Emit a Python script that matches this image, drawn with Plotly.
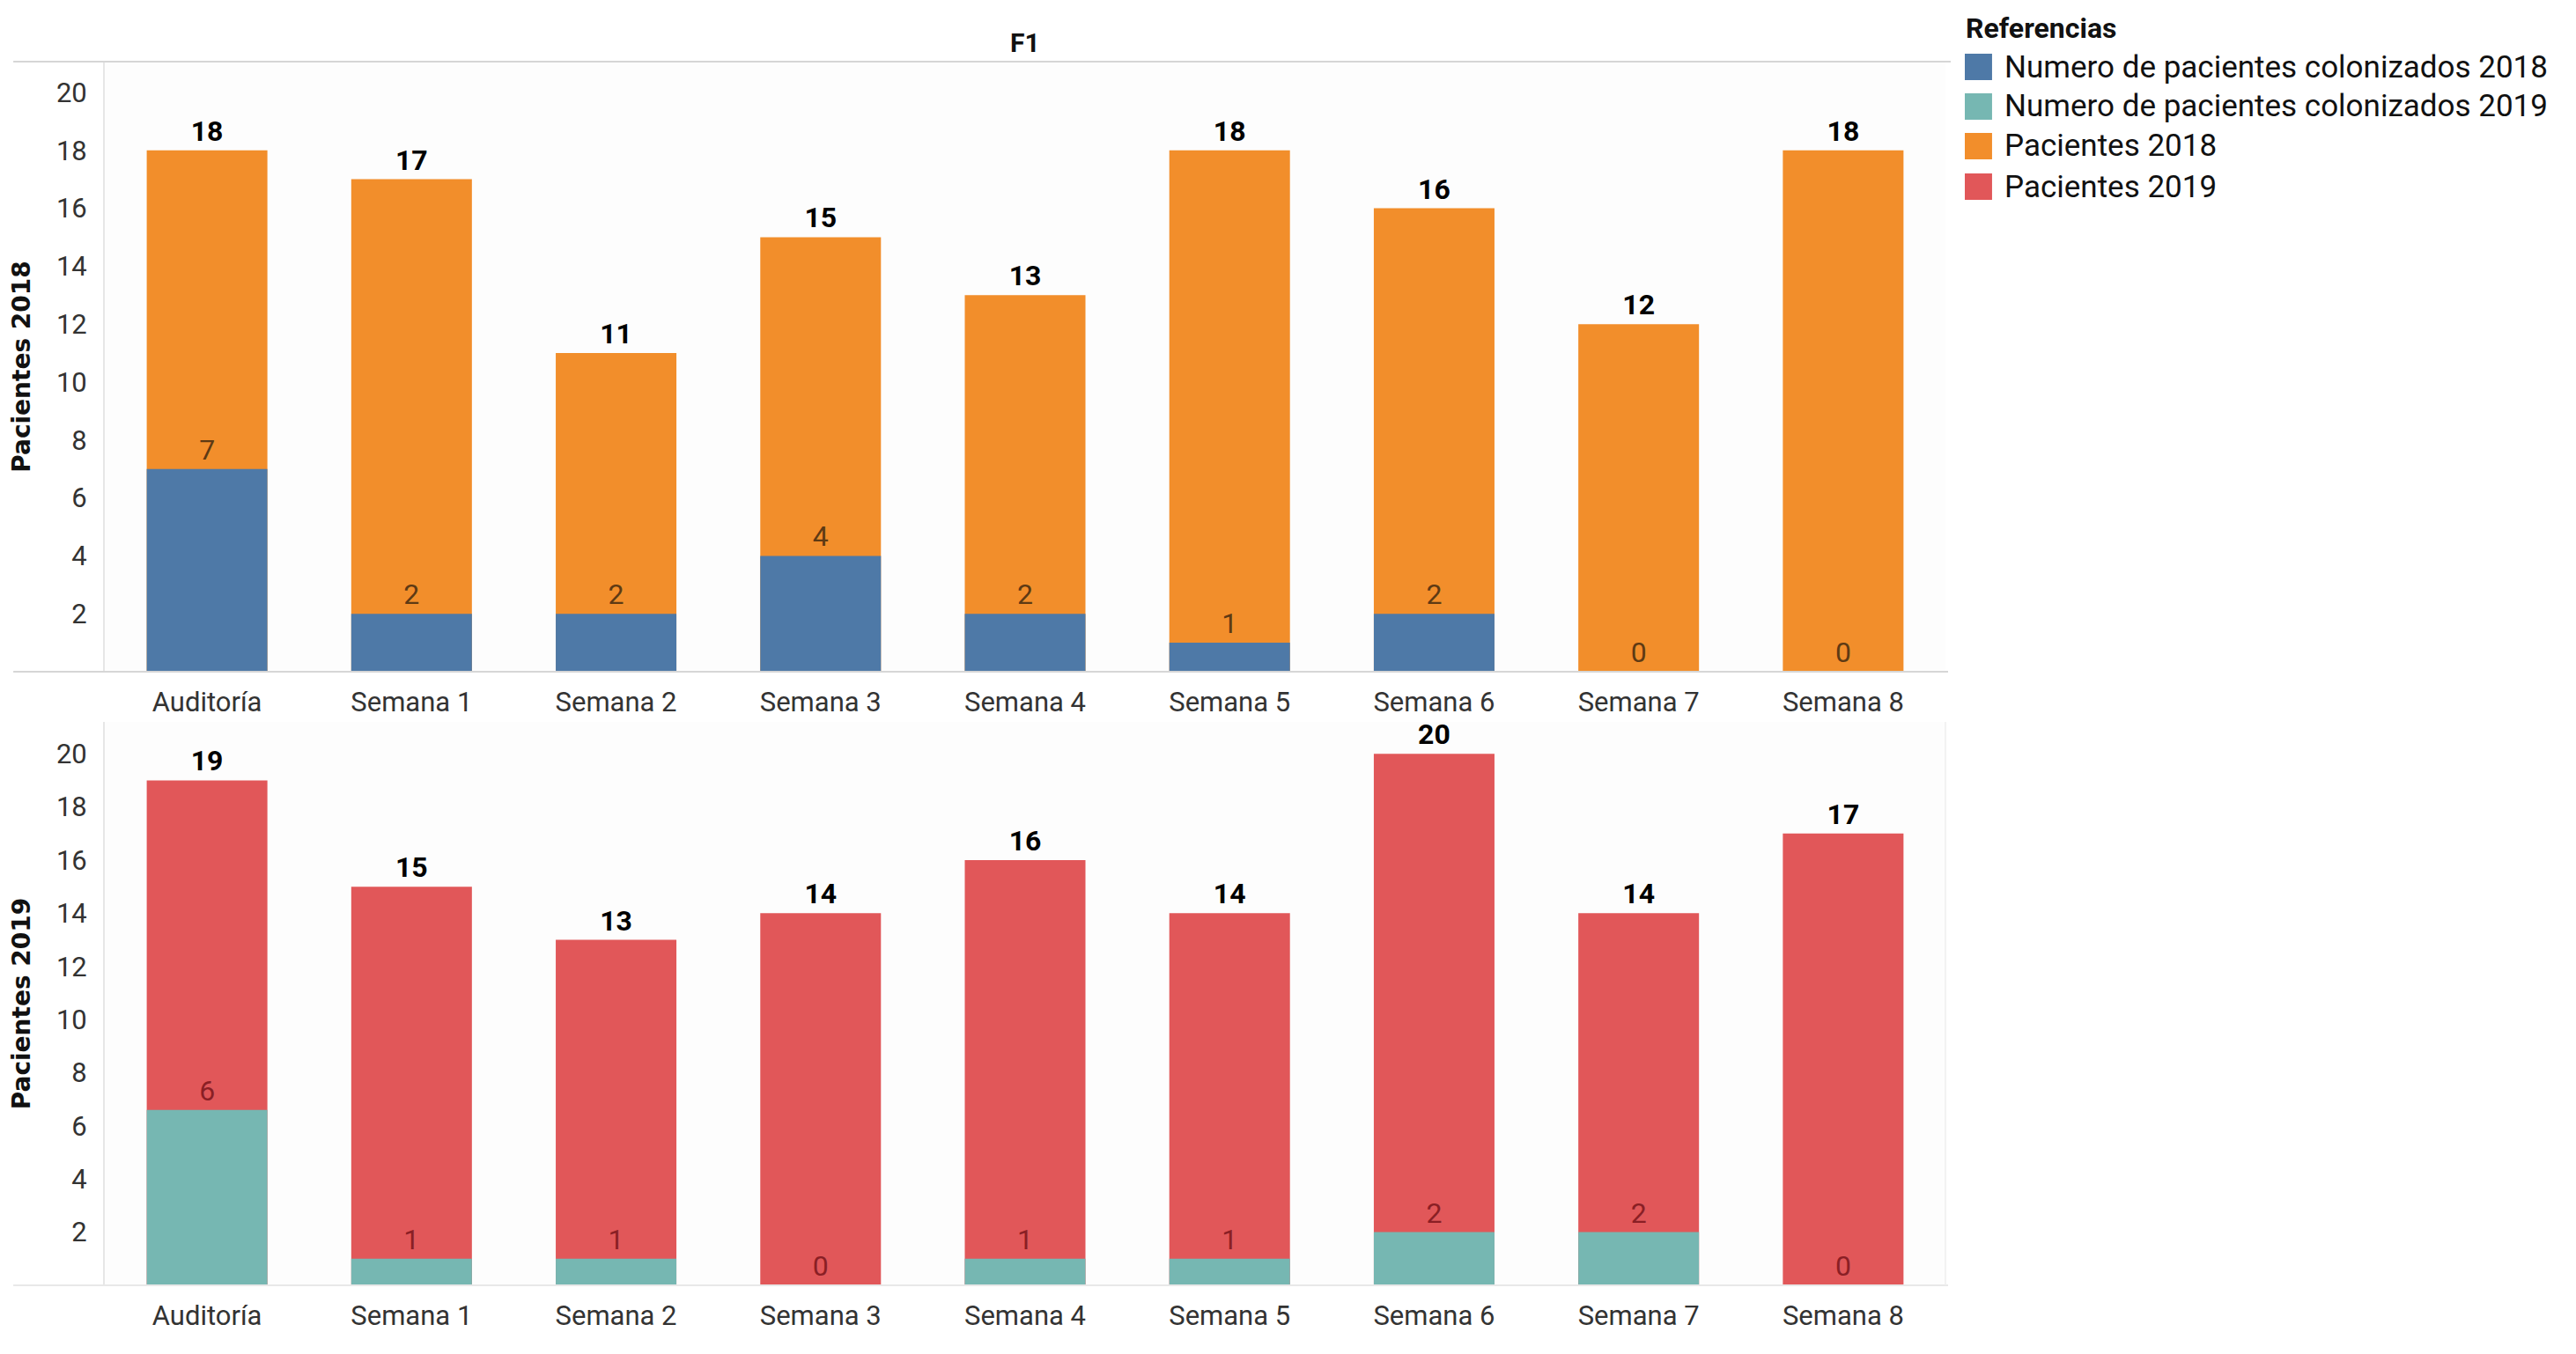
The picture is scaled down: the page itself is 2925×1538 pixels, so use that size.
import plotly.graph_objects as go

# ---------------- data ----------------
categorias = ["Auditoría", "Semana 1", "Semana 2", "Semana 3", "Semana 4",
              "Semana 5", "Semana 6", "Semana 7", "Semana 8"]
pacientes_2018 = [18, 17, 11, 15, 13, 18, 16, 12, 18]
colonizados_2018 = [7, 2, 2, 4, 2, 1, 2, 0, 0]
pacientes_2019 = [19, 15, 13, 14, 16, 14, 20, 14, 17]
colonizados_2019 = [6.6, 1, 1, 0, 1, 1, 2, 2, 0]
etiquetas_colonizados_2019 = ["6", "1", "1", "0", "1", "1", "2", "2", "0"]
ticks_y = [2, 4, 6, 8, 10, 12, 14, 16, 18, 20]

series_nombres = ["Numero de pacientes colonizados 2018",
                  "Numero de pacientes colonizados 2019",
                  "Pacientes 2018", "Pacientes 2019"]
series_colores = ["#4e79a7", "#76b7b2", "#f28e2b", "#e15759"]
C_COL18, C_COL19, C_P18, C_P19 = series_colores

# ---------------- geometry (pixels in the page) ----------------
OFF = 8                      # default page body margin
W, H = 2925 - 2 * OFF, 1538 - 2 * OFF
PL, PR = 117 - OFF, 2209 - OFF      # plot area left/right
PT, PB = 70 - OFF, 1460 - OFF       # plot area top/bottom


def px_x(x):
    return (x - OFF - PL) / (PR - PL)


def px_y(y):
    return (PB - (y - OFF)) / (PB - PT)


TICK_FONT = dict(family="Roboto", size=31, color="#333333")
TOTAL_FONT = dict(family="Roboto", size=32, color="#000000", weight="bold")
INNER_SIZE = 32

fig = go.Figure()

# upper panel
fig.add_trace(go.Bar(
    x=categorias, y=pacientes_2018, name="Pacientes 2018",
    marker=dict(color=C_P18, line=dict(width=0)), width=0.59,
    text=[str(v) for v in pacientes_2018], textposition="outside",
    textfont=TOTAL_FONT, cliponaxis=False, constraintext="none",
    xaxis="x", yaxis="y", showlegend=False))
fig.add_trace(go.Bar(
    x=categorias, y=colonizados_2018, name="Numero de pacientes colonizados 2018",
    marker=dict(color=C_COL18, line=dict(width=0)), width=0.59,
    text=[str(v) for v in colonizados_2018], textposition="outside",
    textfont=dict(family="Roboto", size=INNER_SIZE, color="#5e3a14"),
    cliponaxis=False, constraintext="none",
    xaxis="x", yaxis="y", showlegend=False))

# lower panel
fig.add_trace(go.Bar(
    x=categorias, y=pacientes_2019, name="Pacientes 2019",
    marker=dict(color=C_P19, line=dict(width=0)), width=0.59,
    text=[str(v) for v in pacientes_2019], textposition="outside",
    textfont=TOTAL_FONT, cliponaxis=False, constraintext="none",
    xaxis="x2", yaxis="y2", showlegend=False))
fig.add_trace(go.Bar(
    x=categorias, y=colonizados_2019, name="Numero de pacientes colonizados 2019",
    marker=dict(color=C_COL19, line=dict(width=0)), width=0.59,
    text=etiquetas_colonizados_2019, textposition="outside",
    textfont=dict(family="Roboto", size=INNER_SIZE, color="#8a1f25"),
    cliponaxis=False, constraintext="none",
    xaxis="x2", yaxis="y2", showlegend=False))

xaxis_common = dict(
    tickfont=TICK_FONT, showgrid=False, zeroline=False, showline=False,
    ticks="outside", ticklen=7, tickcolor="rgba(0,0,0,0)",
    categoryorder="array", categoryarray=categorias, fixedrange=True)
yaxis_common = dict(
    tickvals=ticks_y, tickfont=TICK_FONT, showgrid=False, zeroline=False,
    showline=True, linecolor="#e6e6e6", linewidth=2,
    ticks="outside", ticklen=12, tickcolor="rgba(0,0,0,0)",
    title_standoff=24, fixedrange=True)

top_domain = [px_y(763), 1.0]
bot_domain = [0.0, px_y(820)]

Y_TITLE_FONT = dict(family="DejaVu Sans", size=28, color="#111111", weight="bold")

fig.update_layout(
    width=W, height=H,
    margin=dict(l=PL, r=W - PR, t=PT, b=H - PB, pad=0),
    paper_bgcolor="white", plot_bgcolor="#fdfdfd",
    barmode="overlay", bargap=0.41,
    xaxis=dict(xaxis_common, anchor="y"),
    yaxis=dict(yaxis_common, domain=top_domain, range=[0, 21.06],
               title=dict(text="Pacientes 2018", font=Y_TITLE_FONT)),
    xaxis2=dict(xaxis_common, anchor="y2"),
    yaxis2=dict(yaxis_common, domain=bot_domain, range=[0, 21.2],
                title=dict(text="Pacientes 2019", font=Y_TITLE_FONT)),
)

shapes = []
line_style = dict(color="#d6d6d6", width=2)
# header line under "F1"
shapes.append(dict(type="line", xref="paper", yref="paper",
                   x0=px_x(5 + OFF), x1=px_x(2215), y0=1.0, y1=1.0, line=line_style))
# x-axis baselines
shapes.append(dict(type="line", xref="paper", yref="paper",
                   x0=px_x(5 + OFF), x1=px_x(2212), y0=px_y(763), y1=px_y(763),
                   line=line_style))
shapes.append(dict(type="line", xref="paper", yref="paper",
                   x0=px_x(5 + OFF), x1=px_x(2212), y0=0, y1=0,
                   line=dict(color="#e8e8e8", width=2)))
# right pane edge of lower panel
shapes.append(dict(type="line", xref="paper", yref="paper",
                   x0=1.0, x1=1.0, y0=0, y1=px_y(820),
                   line=dict(color="#eeeeee", width=1.5)))

annotations = [dict(text="F1", xref="paper", yref="paper", x=0.5, y=1.0,
                    xanchor="center", yanchor="bottom", yshift=2, showarrow=False,
                    font=dict(family="Roboto", size=30, color="#111111",
                              weight="bold"))]

# legend ("Referencias")
annotations.append(dict(text="Referencias", xref="paper", yref="paper",
                        x=px_x(2230), y=px_y(32), xanchor="left", yanchor="middle",
                        showarrow=False,
                        font=dict(family="Roboto", size=32, color="#111111",
                                  weight="bold")))
leg_y = [76, 121, 166, 212]
for nombre, color, yc in zip(series_nombres, series_colores, leg_y):
    shapes.append(dict(type="rect", xref="paper", yref="paper",
                       x0=px_x(2231), x1=px_x(2262),
                       y0=px_y(yc + 15), y1=px_y(yc - 15),
                       fillcolor=color, line=dict(width=0)))
    annotations.append(dict(text=nombre, xref="paper", yref="paper",
                            x=px_x(2274), y=px_y(yc), xanchor="left",
                            yanchor="middle", showarrow=False,
                            font=dict(family="Roboto", size=35, color="#111111")))

fig.update_layout(shapes=shapes, annotations=annotations)

fig.write_html("out.html")
